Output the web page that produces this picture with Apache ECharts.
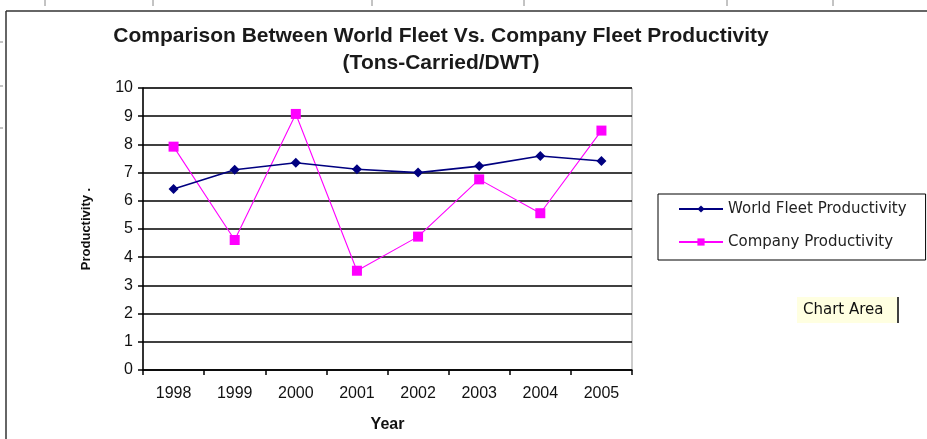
<!DOCTYPE html>
<html>
<head>
<meta charset="utf-8">
<title>Fleet Productivity</title>
<script src="https://cdn.jsdelivr.net/npm/echarts@6/dist/echarts.min.js"></script>
<style>
  html, body { margin: 0; padding: 0; background: #fff; }
  #chart { width: 927px; height: 439px; }
</style>
</head>
<body>
<div id="chart"></div>
<script>
// data
var years = ['1998', '1999', '2000', '2001', '2002', '2003', '2004', '2005'];
var worldFleet = [6.42, 7.1, 7.35, 7.12, 7.0, 7.23, 7.59, 7.41];
var companyFleet = [7.92, 4.61, 9.08, 3.52, 4.73, 6.76, 5.56, 8.49];
var yTicks = [0, 1, 2, 3, 4, 5, 6, 7, 8, 9, 10];

var chart = echarts.init(document.getElementById('chart'));

var option = {
  backgroundColor: '#fff',
  animation: false,
  title: {
    text: 'Comparison Between World Fleet Vs. Company Fleet Productivity\n(Tons-Carried/DWT)',
    left: 441,
    top: 23,
    padding: 0,
    textAlign: 'center',
    textStyle: {
      fontFamily: 'Liberation Sans',
      fontSize: 21,
      fontWeight: 'bold',
      color: '#1a1a1a',
      lineHeight: 27
    }
  },
  legend: {
    orient: 'vertical',
    left: 658,
    top: 194,
    padding: [7, 19, 10, 20],
    itemGap: 17,
    itemWidth: 44,
    itemHeight: 9,
    itemTextGap: 6,
    borderColor: '#000',
    borderWidth: 1,
    textStyle: { fontFamily: 'DejaVu Sans', fontSize: 15, lineHeight: 16, color: '#222' },
    data: ['World Fleet Productivity', 'Company Productivity']
  },
  grid: {
    left: 143,
    right: 295,
    top: 88,
    bottom: 69,
    show: true,
    borderColor: '#999',
    borderWidth: 1
  },
  xAxis: {
    type: 'category',
    data: years,
    boundaryGap: true,
    name: 'Year',
    nameLocation: 'middle',
    nameGap: 47,
    nameTextStyle: { fontFamily: 'Liberation Sans', fontSize: 16, fontWeight: 'bold', color: '#111' },
    axisLine: { lineStyle: { color: '#000', width: 1.5 } },
    axisTick: { show: true, length: 5, alignWithLabel: false, lineStyle: { color: '#000', width: 1.5 } },
    axisLabel: { fontFamily: 'Liberation Sans', fontSize: 16, color: '#111', margin: 16 }
  },
  yAxis: {
    type: 'value',
    min: yTicks[0],
    max: yTicks[yTicks.length - 1],
    interval: 1,
    name: 'Productivity .',
    nameLocation: 'middle',
    nameGap: 50,
    nameTextStyle: { fontFamily: 'Liberation Sans', fontSize: 13, fontWeight: 'bold', color: '#111' },
    axisLine: { show: true, lineStyle: { color: '#000', width: 1.5 } },
    axisTick: { show: true, length: 5, inside: false, lineStyle: { color: '#000', width: 1.5 } },
    axisLabel: { fontFamily: 'Liberation Sans', fontSize: 16, color: '#111', margin: 10 },
    splitLine: { show: true, lineStyle: { color: '#000', width: 1.6 } }
  },
  series: [
    {
      name: 'World Fleet Productivity',
      type: 'line',
      data: worldFleet,
      symbol: 'diamond',
      symbolSize: 10,
      lineStyle: { color: '#000080', width: 1.6 },
      itemStyle: { color: '#000080' },
      z: 3
    },
    {
      name: 'Company Productivity',
      type: 'line',
      data: companyFleet,
      symbol: 'rect',
      symbolSize: 10,
      lineStyle: { color: '#FF00FF', width: 1.1 },
      itemStyle: { color: '#FF00FF' },
      z: 2
    }
  ],
  graphic: [
    // chart area frame
    { type: 'line', shape: { x1: 6, y1: 11, x2: 927, y2: 11 }, style: { stroke: '#333', lineWidth: 1.5 } },
    { type: 'line', shape: { x1: 6, y1: 11, x2: 6, y2: 439 }, style: { stroke: '#333', lineWidth: 1.5 } },
    // spreadsheet cell marks
    { type: 'line', shape: { x1: 45, y1: 0, x2: 45, y2: 6 }, style: { stroke: '#888', lineWidth: 1 } },
    { type: 'line', shape: { x1: 153, y1: 0, x2: 153, y2: 6 }, style: { stroke: '#888', lineWidth: 1 } },
    { type: 'line', shape: { x1: 372, y1: 0, x2: 372, y2: 6 }, style: { stroke: '#888', lineWidth: 1 } },
    { type: 'line', shape: { x1: 524, y1: 0, x2: 524, y2: 6 }, style: { stroke: '#888', lineWidth: 1 } },
    { type: 'line', shape: { x1: 727, y1: 0, x2: 727, y2: 6 }, style: { stroke: '#888', lineWidth: 1 } },
    { type: 'line', shape: { x1: 833, y1: 0, x2: 833, y2: 6 }, style: { stroke: '#888', lineWidth: 1 } },
    { type: 'line', shape: { x1: 0, y1: 42, x2: 3, y2: 42 }, style: { stroke: '#888', lineWidth: 1 } },
    { type: 'line', shape: { x1: 0, y1: 86, x2: 3, y2: 86 }, style: { stroke: '#888', lineWidth: 1 } },
    { type: 'line', shape: { x1: 0, y1: 128, x2: 3, y2: 128 }, style: { stroke: '#888', lineWidth: 1 } },
    // "Chart Area" hover tip
    { type: 'rect', shape: { x: 797, y: 297, width: 100, height: 26 }, style: { fill: '#FFFFE1' } },
    {
      type: 'text',
      x: 803,
      y: 310,
      style: {
        text: 'Chart Area',
        fontFamily: 'DejaVu Sans',
        fontSize: 15,
        fill: '#111',
        verticalAlign: 'middle'
      }
    },
    { type: 'line', shape: { x1: 898, y1: 297, x2: 898, y2: 323 }, style: { stroke: '#000', lineWidth: 1.5 } }
  ]
};

chart.setOption(option);
</script>
</body>
</html>
